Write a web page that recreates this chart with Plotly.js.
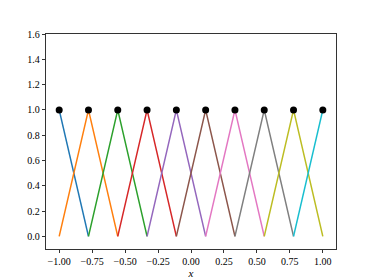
<!DOCTYPE html>
<html>
<head>
<meta charset="utf-8">
<script src="https://cdn.plot.ly/plotly-3.0.1.min.js"></script>
<style>html,body{margin:0;padding:0;background:#fff;}#chart{width:374px;height:280px;}</style>
</head>
<body>
<div id="chart"></div>
<script>
// Node positions (10 equally spaced nodes on [-1, 1])
const nodes = [-1.0, -0.7778, -0.5556, -0.3333, -0.1111, 0.1111, 0.3333, 0.5556, 0.7778, 1.0];
// Value of each hat basis function at its own node and at neighbouring nodes
const peakValues = [1, 1, 1, 1, 1, 1, 1, 1, 1, 1];
const neighbourValue = 0;
const colors = ['#1f77b4','#ff7f0e','#2ca02c','#d62728','#9467bd','#8c564b','#e377c2','#7f7f7f','#bcbd22','#17becf'];

const traces = [];
for (let i = 0; i < nodes.length; i++) {
  const xs = [], ys = [];
  if (i > 0) { xs.push(nodes[i-1]); ys.push(neighbourValue); }
  xs.push(nodes[i]); ys.push(peakValues[i]);
  if (i < nodes.length - 1) { xs.push(nodes[i+1]); ys.push(neighbourValue); }
  traces.push({x: xs, y: ys, mode: 'lines', type: 'scatter',
    line: {color: colors[i], width: 1.5}, hoverinfo: 'skip', showlegend: false});
}
traces.push({x: nodes, y: peakValues, mode: 'markers', type: 'scatter',
  marker: {color: '#000000', size: 7}, showlegend: false});

const fontFam = '"Liberation Serif", "DejaVu Serif", serif';
const layout = {
  width: 374, height: 280,
  margin: {l: 46, r: 38, t: 34, b: 31, pad: 0},
  paper_bgcolor: '#fff', plot_bgcolor: '#fff',
  font: {family: fontFam, size: 10, color: '#000'},
  xaxis: {range: [-1.1, 1.1], tickvals: [-1, -0.75, -0.5, -0.25, 0, 0.25, 0.5, 0.75, 1],
    tickformat: '.2f', ticks: 'outside', ticklen: 3.5, tickwidth: 0.8, tickcolor: '#000',
    showline: true, linecolor: '#000', linewidth: 0.8, mirror: true, showgrid: false, zeroline: false,
    title: {text: '<i>x</i>', font: {family: fontFam, size: 11}, standoff: 1},
    tickfont: {family: fontFam, size: 10}},
  yaxis: {range: [-0.1, 1.6], tickvals: [0, 0.2, 0.4, 0.6, 0.8, 1.0, 1.2, 1.4, 1.6],
    tickformat: '.1f', ticks: 'outside', ticklen: 3.5, tickwidth: 0.8, tickcolor: '#000',
    showline: true, linecolor: '#000', linewidth: 0.8, mirror: true, showgrid: false, zeroline: false,
    tickfont: {family: fontFam, size: 10}}
};
Plotly.newPlot('chart', traces, layout, {staticPlot: true, displayModeBar: false});
</script>
</body>
</html>
